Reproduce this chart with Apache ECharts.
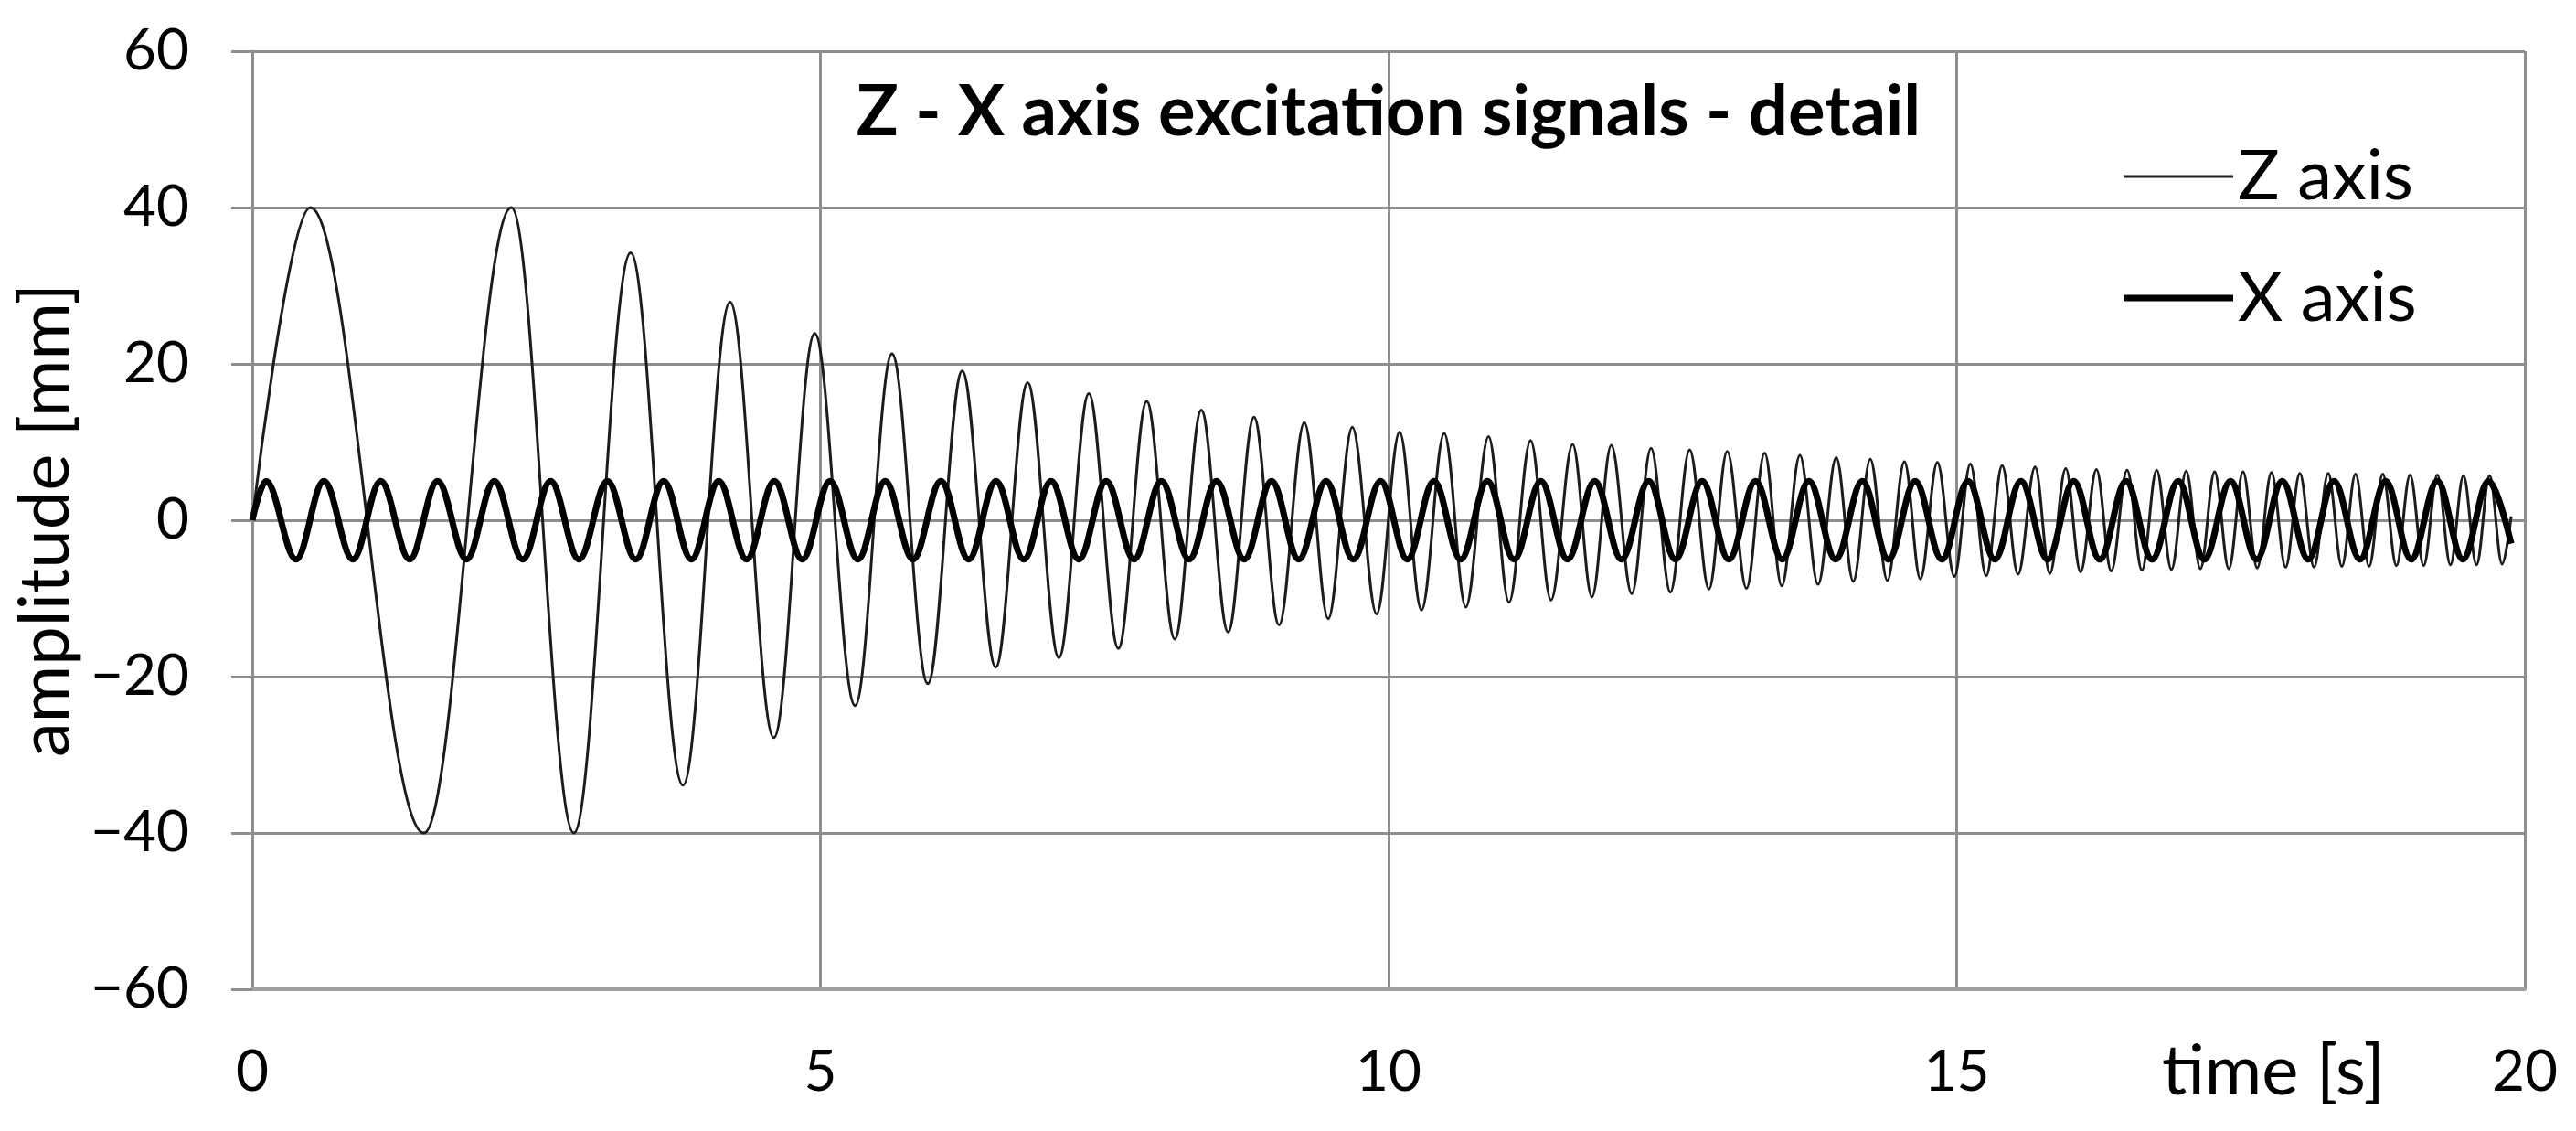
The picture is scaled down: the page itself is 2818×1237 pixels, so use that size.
<!DOCTYPE html>
<html><head><meta charset="utf-8">
<script src="https://cdn.jsdelivr.net/npm/echarts@6/dist/echarts.min.js"></script>
<style>html,body{margin:0;padding:0;background:#fff}#c{width:2818px;height:1237px}</style>
</head><body><div id="c"></div>
<script>
// Z axis signal: start point, then successive peaks/troughs (time [s], amplitude [mm])
const zTimes = [0, 0.51, 1.51, 2.28, 2.83, 3.33, 3.79, 4.205, 4.59, 4.95, 5.305, 5.63, 5.945, 6.248, 6.543, 6.824, 7.099, 7.362, 7.622, 7.872, 8.119, 8.352, 8.588, 8.816, 9.036, 9.259, 9.469, 9.681, 9.895, 10.097, 10.29, 10.49, 10.68, 10.88, 11.06, 11.25, 11.43, 11.62, 11.79, 11.96, 12.14, 12.31, 12.48, 12.65, 12.82, 12.98, 13.15, 13.31, 13.46, 13.62, 13.78, 13.94, 14.09, 14.24, 14.39, 14.54, 14.68, 14.83, 14.98, 15.12, 15.26, 15.40, 15.54, 15.69, 15.82, 15.96, 16.09, 16.23, 16.36, 16.50, 16.63, 16.76, 16.89, 17.02, 17.145, 17.27, 17.395, 17.52, 17.645, 17.77, 17.895, 18.02, 18.145, 18.27, 18.39, 18.51, 18.63, 18.75, 18.87, 18.99, 19.11, 19.23, 19.345, 19.46, 19.575, 19.69, 19.80, 19.88];
const zValues = [0, 40, -40, 40, -40, 34.2, -33.9, 27.9, -27.8, 23.9, -23.7, 21.3, -20.9, 19.1, -18.8, 17.6, -17.6, 16.2, -16.4, 15.2, -15.2, 14.1, -14.3, 13.2, -13.4, 12.5, -12.6, 11.9, -12.0, 11.3, -11.5, 11.1, -11.1, 10.7, -10.5, 10.2, -10.2, 9.7, -9.8, 9.6, -9.4, 9.2, -9.2, 9.0, -8.8, 8.8, -8.7, 8.6, -8.4, 8.3, -8.2, 8.0, -7.8, 7.8, -7.7, 7.5, -7.5, 7.4, -7.2, 7.2, -7.1, 7.0, -6.9, 6.8, -6.8, 6.6, -6.6, 6.5, -6.5, 6.4, -6.4, 6.4, -6.3, 6.3, -6.2, 6.2, -6.2, 6.2, -6.1, 6.1, -6.0, 6.0, -6.0, 6.0, -5.9, 5.9, -5.9, 5.9, -5.8, 5.8, -5.8, 5.8, -5.7, 5.7, -5.7, 5.7, -5.6, 0.5];

// X axis signal: start point, then successive peaks/troughs
const xTimes = [0, 0.12, 0.385, 0.63, 0.885, 1.13, 1.385, 1.63, 1.885, 2.13, 2.38, 2.625, 2.875, 3.125, 3.375, 3.62, 3.865, 4.105, 4.35, 4.595, 4.84, 5.085, 5.33, 5.57, 5.815, 6.06, 6.305, 6.545, 6.79, 7.03, 7.275, 7.515, 7.76, 8.0, 8.245, 8.485, 8.73, 8.97, 9.21, 9.45, 9.69, 9.93, 10.165, 10.40, 10.635, 10.87, 11.105, 11.34, 11.575, 11.815, 12.05, 12.29, 12.525, 12.76, 12.995, 13.23, 13.465, 13.70, 13.935, 14.17, 14.40, 14.635, 14.87, 15.10, 15.335, 15.565, 15.80, 16.03, 16.26, 16.49, 16.72, 16.95, 17.18, 17.41, 17.64, 17.865, 18.095, 18.32, 18.55, 18.775, 19.0, 19.23, 19.455, 19.68, 19.88];
const xValues = [0, 5, -5, 5, -5, 5, -5, 5, -5, 5, -5, 5, -5, 5, -5, 5, -5, 5, -5, 5, -5, 5, -5, 5, -5, 5, -5, 5, -5, 5, -5, 5, -5, 5, -5, 5, -5, 5, -5, 5, -5, 5, -5, 5, -5, 5, -5, 5, -5, 5, -5, 5, -5, 5, -5, 5, -5, 5, -5, 5, -5, 5, -5, 5, -5, 5, -5, 5, -5, 5, -5, 5, -5, 5, -5, 5, -5, 5, -5, 5, -5, 5, -5, 5, -3];

const seriesNames = ['Z axis', 'X axis'];
const chartTitle = 'Z - X axis excitation signals - detail';
const xAxisName = 'time [s]';
const yAxisName = 'amplitude [mm]';

const zData = zTimes.map((t, i) => [t, zValues[i]]);
const xData = xTimes.map((t, i) => [t, xValues[i]]);

const FONT = 'Lato';
const gridColor = '#8e8e8e';
const zWidth = 3, xWidth = 7;

const chart = echarts.init(document.getElementById('c'), null, {renderer: 'canvas'});
chart.setOption({
  animation: false,
  backgroundColor: '#fff',
  title: {
    text: chartTitle,
    left: 1514,
    top: 80,
    textAlign: 'center',
    textStyle: {fontFamily: FONT, fontWeight: 'bold', fontSize: 76, lineHeight: 76, color: '#000'}
  },
  legend: {
    data: [
      {name: seriesNames[0], icon: 'path://M0,0H120V' + zWidth + 'H0Z'},
      {name: seriesNames[1], icon: 'path://M0,0H120V' + xWidth + 'H0Z'}
    ],
    orient: 'vertical',
    left: 2318,
    top: 150,
    itemWidth: 120,
    itemHeight: 14,
    itemGap: 57,
    symbolKeepAspect: true,
    textStyle: {fontFamily: FONT, fontSize: 76, lineHeight: 76, color: '#000'}
  },
  grid: {left: 276, right: 56, top: 56, bottom: 155, containLabel: false},
  xAxis: {
    type: 'value', min: 0, max: 20, interval: 5,
    name: xAxisName, nameLocation: 'end', nameGap: -397,
    nameTextStyle: {fontFamily: FONT, fontSize: 76, lineHeight: 76, color: '#000', verticalAlign: 'top', align: 'left', padding: [52, 0, 0, 0]},
    axisLine: {show: true, onZero: false, lineStyle: {color: '#a0a0a0', width: 4}},
    axisTick: {show: false},
    axisLabel: {fontFamily: FONT, fontSize: 62, lineHeight: 62, color: '#000', margin: 60},
    splitLine: {show: true, lineStyle: {color: gridColor, width: 3}}
  },
  yAxis: {
    type: 'value', min: -60, max: 60, interval: 20,
    name: yAxisName, nameLocation: 'middle', nameRotate: 90, nameGap: 183,
    nameTextStyle: {fontFamily: FONT, fontSize: 76, lineHeight: 76, color: '#000'},
    axisLine: {show: true, lineStyle: {color: gridColor, width: 3}},
    axisTick: {show: true, length: 23, lineStyle: {color: gridColor, width: 3}},
    axisLabel: {fontFamily: FONT, fontSize: 62, color: '#000', margin: 69,
      formatter: v => String(v).replace('-', '\u2212')},
    splitLine: {show: true, lineStyle: {color: gridColor, width: 3}}
  },
  series: [
    {name: seriesNames[0], type: 'line', data: zData, smooth: 0.36, smoothMonotone: 'x',
     symbol: 'none', showSymbol: false, lineStyle: {color: '#1c1c1c', width: zWidth}, itemStyle: {color: '#1c1c1c'}},
    {name: seriesNames[1], type: 'line', data: xData, smooth: 0.36, smoothMonotone: 'x',
     symbol: 'none', showSymbol: false, lineStyle: {color: '#000', width: xWidth}, itemStyle: {color: '#000'}}
  ]
});
</script>
</body></html>
